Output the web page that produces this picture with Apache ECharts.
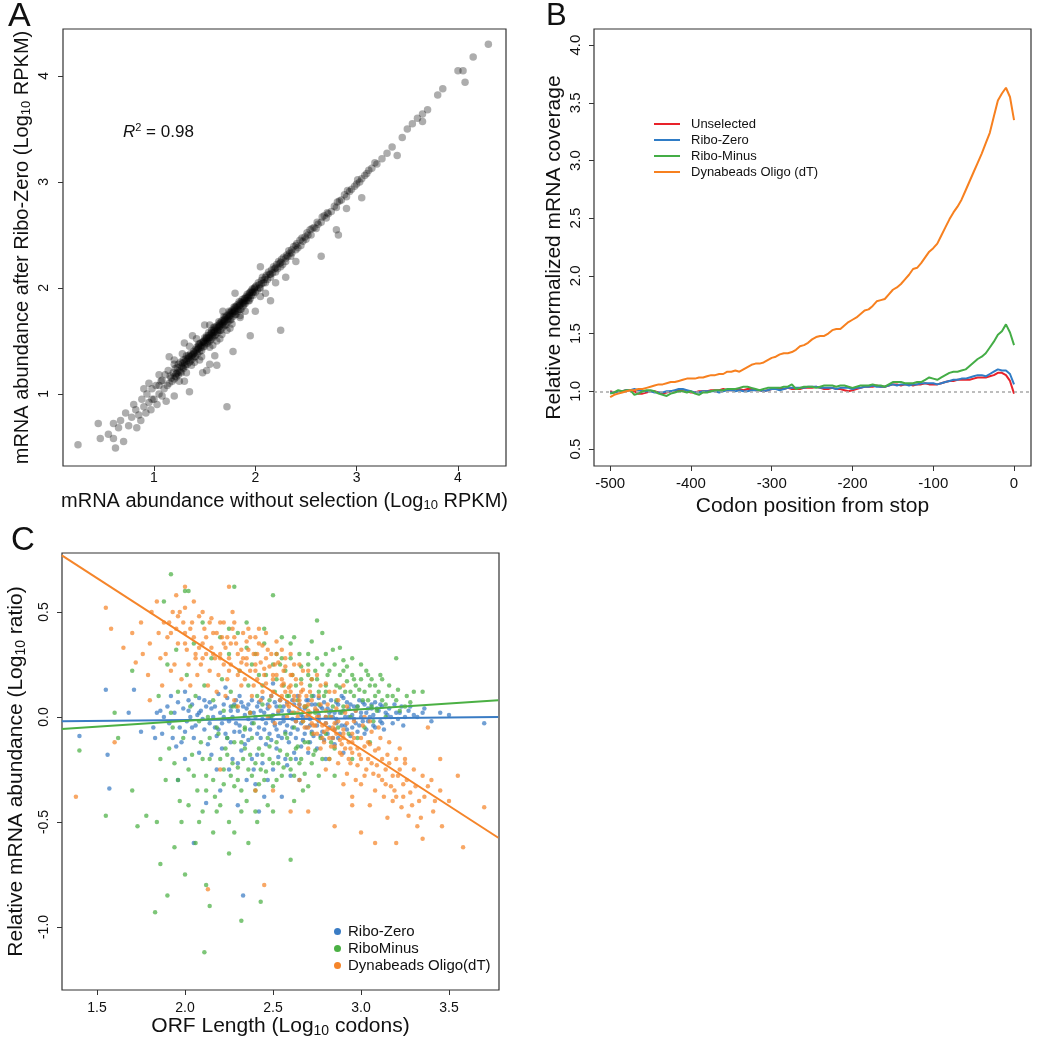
<!DOCTYPE html>
<html><head><meta charset="utf-8">
<script src="https://cdn.jsdelivr.net/npm/echarts@6/dist/echarts.min.js"></script>
<style>html,body{margin:0;padding:0;background:#fff}#chart{width:1050px;height:1050px}</style>
</head><body><div id="chart"></div>
<script>
// ---------- Panel A data: [unselected log10 RPKM, Ribo-Zero log10 RPKM] ----------
const aTicksX = [1, 2, 3, 4];
const aTicksY = [1, 2, 3, 4];
const aR2 = 0.98;
const aPoints = [
[0.25,0.52],[0.47,0.58],[0.45,0.72],[0.55,0.62],[0.6,0.58],[0.62,0.49],[0.65,0.68],[0.6,0.72],[0.67,0.75],[0.7,0.55],
[0.72,0.82],[0.75,0.7],[0.78,0.78],[0.8,0.9],[0.82,0.85],[0.83,0.68],[0.85,0.8],[0.87,0.75],[0.88,0.95],[0.9,0.88],
[0.92,0.82],[0.93,1.0],[0.95,0.92],[0.97,0.85],[0.98,1.05],[1.0,0.95],[1.02,1.08],[1.03,0.9],[1.05,1.0],[1.07,1.12],
[1.08,0.98],[1.1,1.05],[1.11,1.18],[1.12,0.93],
[1.15,1.1],[1.16,1.17],[1.14,1.22],[1.18,1.12],[1.19,1.2],[1.17,1.15],[1.2,1.14],[1.21,1.24],[1.22,1.19],
[1.23,1.2],[1.24,1.28],[1.22,1.16],[1.25,1.22],[1.26,1.3],[1.24,1.18],[1.27,1.26],[1.28,1.25],[1.29,1.32],[1.27,1.2],
[1.3,1.27],[1.31,1.33],[1.29,1.24],[1.32,1.36],[1.33,1.28],[1.34,1.36],[1.32,1.31],[1.35,1.3],[1.36,1.38],[1.34,1.34],[1.37,1.27],
[1.38,1.33],[1.39,1.4],[1.37,1.36],[1.4,1.35],[1.41,1.42],[1.39,1.38],[1.42,1.44],[1.43,1.38],[1.44,1.45],[1.42,1.41],[1.45,1.47],
[1.45,1.4],[1.46,1.48],[1.44,1.43],[1.47,1.35],[1.48,1.44],[1.49,1.5],[1.47,1.46],[1.5,1.53],[1.5,1.45],[1.51,1.52],[1.49,1.49],[1.52,1.55],
[1.53,1.48],[1.54,1.55],[1.52,1.51],[1.55,1.44],[1.55,1.5],[1.56,1.57],[1.54,1.53],[1.57,1.6],[1.58,1.53],[1.59,1.6],[1.57,1.56],[1.6,1.63],
[1.6,1.55],[1.61,1.62],[1.59,1.58],[1.62,1.5],[1.63,1.58],[1.64,1.65],[1.62,1.61],[1.65,1.67],[1.65,1.6],[1.66,1.67],[1.64,1.63],[1.67,1.56],
[1.68,1.63],[1.69,1.7],[1.67,1.66],[1.7,1.72],[1.7,1.65],[1.71,1.72],[1.69,1.68],[1.72,1.6],[1.73,1.68],[1.74,1.75],[1.72,1.71],[1.75,1.77],
[1.75,1.7],[1.76,1.77],[1.74,1.73],[1.77,1.66],[1.78,1.73],[1.79,1.8],[1.77,1.76],[1.8,1.82],[1.8,1.75],[1.81,1.82],[1.79,1.78],
[1.83,1.78],[1.84,1.85],[1.82,1.81],[1.85,1.74],[1.85,1.8],[1.86,1.87],[1.84,1.83],[1.88,1.83],[1.89,1.9],[1.87,1.86],
[1.9,1.85],[1.91,1.92],[1.89,1.88],[1.93,1.88],[1.94,1.95],[1.92,1.91],[1.95,1.9],[1.96,1.97],[1.94,1.93],
[1.98,1.93],[1.99,2.0],[1.97,1.96],[2.0,1.96],[2.01,2.02],[1.99,1.99],[2.05,2.0],[2.06,2.07],[2.04,2.03],
[2.1,2.05],[2.11,2.12],[2.09,2.08],[2.15,2.1],[2.16,2.17],[2.14,2.13],[2.2,2.15],[2.21,2.22],[2.19,2.18],
[2.25,2.2],[2.26,2.27],[2.24,2.23],[2.3,2.25],[2.31,2.31],[2.35,2.3],[2.36,2.36],[2.34,2.33],[2.4,2.36],[2.41,2.42],
[2.45,2.4],[2.46,2.47],[2.5,2.46],[2.51,2.52],[2.49,2.48],[2.55,2.5],[2.56,2.56],[2.6,2.56],[2.61,2.62],
[2.65,2.62],[2.66,2.67],[2.7,2.66],[2.71,2.71],[2.75,2.72],[2.8,2.76],[2.81,2.81],[2.85,2.83],[2.9,2.86],[2.91,2.92],
[2.95,2.93],[3.0,2.98],[3.01,3.02],[3.05,3.03],[3.1,3.08],[3.15,3.13],[3.2,3.17],[3.3,3.27],[3.35,3.33],[3.45,3.42],
[3.5,3.5],[3.55,3.55],[3.6,3.6],[3.65,3.64],[3.7,3.68],[3.8,3.82],[3.85,3.88],[4.0,4.05],[4.05,4.05],[4.07,3.94],
[4.15,4.18],[4.3,4.3],
[1.72,0.88],[1.55,1.28],[1.62,1.27],[1.78,1.4],[2.25,1.6],[1.95,1.55],[2.0,1.78],[2.15,1.88],[2.65,2.3],[2.82,2.5],
[2.8,2.55],[1.48,1.2],[1.52,1.22],[1.3,1.12],[1.4,1.3],[2.3,2.1],[2.9,2.75],[3.05,2.85],[3.4,3.25],[3.65,3.57],
[1.85,1.72],[2.1,1.95],[1.2,0.98],[1.35,1.02],[1.6,1.36],
[1.38,1.55],[1.3,1.48],[1.2,1.32],[1.05,1.18],[0.95,1.1],[1.5,1.65],[1.8,1.95],[2.05,2.2],[1.15,1.35],[0.9,1.05],
[1.21,1.17],[1.23,1.25],[1.26,1.21],[1.28,1.29],[1.3,1.3],[1.31,1.26],[1.33,1.33],[1.35,1.35],[1.36,1.31],[1.38,1.37],
[1.4,1.39],[1.41,1.35],[1.43,1.42],[1.44,1.47],[1.46,1.44],[1.47,1.41],[1.48,1.49],[1.5,1.48],[1.51,1.47],[1.52,1.53],
[1.53,1.5],[1.54,1.58],[1.55,1.53],[1.56,1.51],[1.57,1.58],[1.58,1.55],[1.59,1.63],[1.6,1.59],[1.61,1.56],[1.62,1.64],
[1.63,1.6],[1.64,1.68],[1.65,1.64],[1.66,1.6],[1.67,1.69],[1.68,1.66],[1.69,1.73],[1.7,1.69],[1.71,1.65],[1.72,1.74],
[1.73,1.71],[1.74,1.78],[1.75,1.74],[1.76,1.7],[1.77,1.79],[1.78,1.76],[1.79,1.82],[1.8,1.78],[1.81,1.75],[1.82,1.84],
[1.83,1.8],[1.84,1.87],[1.85,1.84],[1.86,1.8],[1.87,1.89],[1.88,1.86],[1.89,1.85],[1.9,1.9],[1.91,1.88],[1.92,1.94],
[1.93,1.91],[1.94,1.88],[1.95,1.96],[1.96,1.93],[1.97,1.99],[1.98,1.96],[2.0,2.01],[2.02,1.98],[2.03,2.05],[2.04,2.0],
[2.06,2.04],[2.07,2.1],[2.08,2.05],[2.1,2.1],[2.12,2.08],[2.13,2.15],[2.15,2.13],[2.17,2.14],[2.18,2.2],[2.2,2.19],
[2.22,2.18],[2.23,2.25],[2.25,2.24],[2.27,2.22],[2.28,2.29],[2.3,2.28],[2.32,2.3],[2.33,2.35],[2.36,2.33],[2.38,2.39],
[2.4,2.4],[2.42,2.38],[2.44,2.45],[2.47,2.44],[2.52,2.5],[2.54,2.55],[2.58,2.57],[2.62,2.6],[2.68,2.68],[2.72,2.7],
[2.78,2.77],[2.83,2.82],[2.88,2.88],[2.93,2.91],[2.98,2.96],[3.03,3.0],[3.08,3.06],[3.12,3.11],[3.18,3.18],[3.25,3.22],
[1.25,1.12],[1.32,1.2],[1.45,1.32],[1.58,1.46],[1.65,1.52],[1.75,1.62],[1.9,1.78],[2.05,1.92],[2.2,2.05],[2.4,2.25],
[1.2,1.28],[1.28,1.38],[1.42,1.52],[1.55,1.65],[1.68,1.78],[1.35,1.45],[1.05,1.08],[1.08,1.13],[1.13,1.08],[0.98,0.95]
];

// ---------- Panel B data: codon position from stop vs relative coverage ----------
const bTicksX = [-500, -400, -300, -200, -100, 0];
const bTicksY = [0.5, 1.0, 1.5, 2.0, 2.5, 3.0, 3.5, 4.0];
const bReference = 1.0;
const bNames = ['Unselected', 'Ribo-Zero', 'Ribo-Minus', 'Dynabeads Oligo (dT)'];
const bPositions = [-500,-495,-490,-485,-480,-475,-470,-465,-460,-455,-450,-445,-440,-435,-430,-425,-420,-415,-410,-405,
-400,-395,-390,-385,-380,-375,-370,-365,-360,-355,-350,-345,-340,-335,-330,-325,-320,-315,-310,-305,
-300,-295,-290,-285,-280,-275,-270,-265,-260,-255,-250,-245,-240,-235,-230,-225,-220,-215,-210,-205,
-200,-195,-190,-185,-180,-175,-170,-165,-160,-155,-150,-145,-140,-135,-130,-125,-120,-115,-110,-105,
-100,-95,-90,-85,-80,-75,-70,-65,-60,-55,-50,-45,-40,-35,-30,-25,-20,-15,-10,-5,0];
const bUnselected = [1.00,0.99,1.00,1.00,1.01,1.01,1.00,0.98,0.98,0.99,1.00,1.00,0.99,0.98,0.99,1.00,1.00,1.01,1.00,1.00,
0.99,0.99,1.00,1.00,1.00,1.01,1.01,1.01,1.02,1.01,1.01,1.02,1.02,1.01,1.02,1.02,1.01,1.01,1.00,1.01,
1.02,1.02,1.02,1.02,1.03,1.02,1.02,1.02,1.03,1.03,1.03,1.04,1.03,1.02,1.02,1.03,1.02,1.02,1.01,1.00,
1.01,1.02,1.03,1.04,1.04,1.04,1.05,1.04,1.04,1.05,1.06,1.06,1.05,1.06,1.06,1.05,1.06,1.06,1.07,1.06,
1.06,1.06,1.07,1.08,1.09,1.09,1.10,1.10,1.10,1.10,1.11,1.12,1.12,1.12,1.13,1.14,1.16,1.16,1.14,1.09,0.98];
const bRiboZero = [0.99,0.99,1.00,1.00,1.01,1.01,1.02,1.01,1.00,1.00,1.00,0.99,0.99,0.99,1.00,1.00,1.01,1.02,1.02,1.01,
1.00,0.99,0.99,1.00,1.00,1.00,1.00,0.99,1.00,1.01,1.01,1.00,1.01,1.00,1.00,1.01,1.01,1.01,1.00,1.01,
1.02,1.02,1.01,1.02,1.03,1.03,1.03,1.03,1.03,1.04,1.04,1.04,1.03,1.03,1.03,1.03,1.02,1.03,1.03,1.03,
1.02,1.03,1.03,1.04,1.04,1.05,1.04,1.04,1.04,1.05,1.06,1.05,1.06,1.06,1.05,1.06,1.06,1.07,1.07,1.07,
1.07,1.06,1.07,1.08,1.09,1.10,1.10,1.11,1.11,1.12,1.13,1.14,1.14,1.13,1.15,1.17,1.19,1.18,1.18,1.15,1.06];
const bRiboMinus = [0.98,0.99,1.01,1.00,1.01,1.01,0.97,0.98,1.00,1.01,1.01,1.00,0.98,0.97,0.96,0.98,0.99,1.00,1.00,0.99,
1.00,0.98,0.97,0.99,0.99,1.00,1.01,1.01,1.01,1.02,1.02,1.02,1.03,1.04,1.04,1.03,1.02,1.01,1.02,1.03,
1.03,1.03,1.03,1.04,1.04,1.06,1.02,1.03,1.04,1.04,1.04,1.03,1.04,1.05,1.05,1.05,1.04,1.05,1.05,1.04,
1.03,1.04,1.05,1.05,1.05,1.06,1.05,1.05,1.04,1.06,1.08,1.08,1.08,1.07,1.07,1.07,1.08,1.08,1.10,1.12,
1.11,1.10,1.12,1.14,1.16,1.17,1.17,1.18,1.19,1.22,1.25,1.28,1.30,1.33,1.38,1.43,1.49,1.52,1.58,1.51,1.40];
const bDynabeads = [0.95,0.97,0.98,0.99,1.00,1.01,1.01,1.02,1.02,1.03,1.04,1.05,1.06,1.06,1.07,1.08,1.08,1.09,1.10,1.11,
1.11,1.11,1.12,1.12,1.13,1.14,1.14,1.15,1.15,1.17,1.17,1.18,1.17,1.19,1.21,1.23,1.24,1.24,1.25,1.27,
1.29,1.30,1.32,1.33,1.33,1.34,1.36,1.39,1.40,1.42,1.45,1.47,1.48,1.48,1.50,1.53,1.54,1.54,1.57,1.60,
1.62,1.64,1.67,1.70,1.71,1.74,1.78,1.79,1.80,1.84,1.88,1.90,1.93,1.97,2.01,2.06,2.07,2.11,2.16,2.21,
2.24,2.28,2.35,2.42,2.49,2.55,2.60,2.66,2.74,2.82,2.90,2.98,3.06,3.15,3.24,3.38,3.52,3.58,3.63,3.55,3.35];

// ---------- Panel C data: [ORF length log10 codons, relative abundance log10 ratio] ----------
const cTicksX = [1.5, 2.0, 2.5, 3.0, 3.5];
const cTicksY = [-1.0, -0.5, 0.0, 0.5];
const cNames = ['Ribo-Zero', 'RiboMinus', 'Dynabeads Oligo(dT)'];
const cRiboZero = [
[1.82,-0.05],[1.84,0.02],[1.86,0.03],[1.87,-0.08],[1.88,0.0],[1.9,0.05],[1.91,-0.03],[1.93,-0.1],[1.94,0.02],[1.96,0.07],
[1.97,-0.05],[1.95,-0.14],[1.99,0.04],[2.01,-0.02],[2.02,0.08],[2.0,-0.07],[2.03,0.0],[2.04,0.06],[2.06,-0.04],[2.07,0.01],
[2.05,-0.1],[2.08,0.09],[2.09,0.03],[2.11,-0.06],[2.12,0.05],[2.1,-0.01],[2.13,-0.13],[2.14,0.07],[2.16,0.0],[2.17,-0.05],
[2.15,0.04],[2.18,-0.09],[2.19,0.11],[2.2,0.02],[2.21,-0.03],[2.22,0.06],[2.23,-0.08],[2.21,-0.15],[2.24,0.09],[2.26,0.05],
[2.25,-0.02],[2.27,0.0],[2.28,-0.07],[2.26,-0.12],[2.29,0.08],[2.27,-0.2],[2.3,0.03],[2.31,-0.04],[2.32,0.07],[2.33,-0.09],
[2.34,0.01],[2.32,-0.16],[2.31,0.1],[2.35,0.04],[2.36,-0.01],[2.37,-0.06],[2.38,0.08],[2.36,-0.11],[2.39,-0.25],[2.37,0.02],
[2.4,0.0],[2.41,0.05],[2.42,-0.05],[2.43,-0.1],[2.44,0.09],[2.41,-0.18],[2.43,0.03],[2.45,0.02],[2.46,-0.03],[2.47,0.06],
[2.48,-0.08],[2.46,-0.13],[2.49,0.1],[2.47,-0.3],[2.5,0.01],[2.51,-0.04],[2.52,0.05],[2.53,-0.09],[2.54,0.08],[2.52,-0.15],
[2.5,-0.02],[2.55,0.03],[2.56,-0.02],[2.57,-0.07],[2.58,0.07],[2.59,-0.12],[2.56,0.0],[2.57,-0.2],[2.6,0.02],[2.61,-0.05],
[2.62,0.06],[2.63,-0.1],[2.64,0.1],[2.61,-0.01],[2.62,-0.17],[2.65,0.04],[2.66,-0.03],[2.67,0.0],[2.68,-0.08],[2.69,0.08],
[2.66,-0.14],[2.7,0.01],[2.71,-0.04],[2.72,0.06],[2.73,-0.09],[2.74,0.03],[2.71,-0.12],[2.73,0.1],[2.75,0.03],[2.76,-0.02],
[2.77,0.05],[2.78,-0.07],[2.79,-0.11],[2.76,0.09],[2.8,0.0],[2.81,0.04],[2.82,-0.05],[2.83,0.08],[2.84,-0.1],[2.82,0.02],
[2.85,0.02],[2.86,-0.03],[2.87,0.06],[2.88,-0.08],[2.89,0.1],[2.86,-0.01],[2.9,0.03],[2.91,-0.04],[2.92,0.07],[2.93,0.0],
[2.94,-0.09],[2.95,0.01],[2.96,0.05],[2.97,-0.03],[2.98,-0.07],[2.99,0.08],[3.0,0.02],[3.01,-0.02],[3.02,0.06],[3.03,-0.06],
[3.04,0.04],[3.05,0.0],[3.06,0.04],[3.07,-0.04],[3.08,0.07],[3.1,0.03],[3.11,-0.02],[3.12,0.05],[3.13,-0.06],[3.15,0.01],
[3.16,0.04],[3.18,-0.03],[3.2,0.02],[3.21,-0.01],[3.23,0.05],[3.25,0.0],[3.27,0.03],[3.3,0.01],[3.4,-0.02],
[1.4,-0.09],[1.55,0.13],[1.56,-0.18],[1.57,-0.34],[1.71,0.13],[1.75,-0.07],[1.83,-0.1],[2.12,-0.41],[2.33,-0.85],[2.2,-0.35],
[1.96,-0.3],[2.42,-0.45],[2.3,-0.42],[3.7,-0.03],[1.68,0.02],[2.55,-0.38],[2.65,-0.3],[2.05,-0.6],[2.4,-0.32],[2.0,-0.2],
[2.8,-0.2],[2.9,-0.17],[3.35,0.02],[3.5,0.01],[2.23,0.14],[2.5,0.16],
[2.02,0.03],[2.04,-0.05],[2.08,0.02],[2.11,0.08],[2.14,-0.03],[2.17,0.05],[2.19,-0.06],[2.22,0.0],[2.24,-0.1],[2.26,0.03],
[2.28,0.06],[2.29,-0.03],[2.31,-0.07],[2.33,0.05],[2.34,-0.13],[2.36,0.06],[2.38,-0.03],[2.39,0.02],[2.41,-0.08],[2.42,0.07],
[2.44,-0.01],[2.45,-0.06],[2.47,0.04],[2.48,0.0],[2.49,-0.11],[2.51,0.07],[2.52,-0.06],[2.53,0.02],[2.54,-0.03],[2.55,-0.1],
[2.56,0.05],[2.58,-0.04],[2.59,0.03],[2.6,-0.08],[2.61,0.08],[2.63,-0.02],[2.64,-0.06],[2.65,0.06],[2.66,0.01],[2.67,-0.11],
[2.68,0.04],[2.69,-0.05],[2.7,0.08],[2.71,-0.01],[2.72,-0.07],[2.74,0.06],[2.75,-0.04],[2.76,0.01],[2.77,-0.09],[2.78,0.04],
[2.79,0.07],[2.8,-0.03],[2.81,-0.08],[2.83,0.03],[2.84,0.0],[2.85,-0.06],[2.86,0.07],[2.87,-0.1],[2.88,0.02],[2.89,-0.04],
[2.9,0.09],[2.91,0.0],[2.92,-0.06],[2.93,0.04],[2.94,0.06],[2.95,-0.05],[2.96,-0.01],[2.97,0.03],[2.98,0.05],[2.99,-0.04],
[3.0,0.0],[3.01,0.07],[3.02,-0.08],[3.03,0.02],[3.04,-0.02],[3.06,0.06],[3.07,0.01],[3.08,-0.05],[3.09,0.04],[3.11,0.06],
[3.12,-0.03],[3.14,0.02],[3.17,0.0],[3.19,0.06],[3.22,0.02],[3.24,-0.04],[3.28,0.05],[3.32,0.0],[3.36,0.04],[3.45,0.02],
[2.15,-0.18],[2.25,-0.25],[2.3,-0.22],[2.38,-0.2],[2.44,-0.22],[2.5,-0.25],[2.53,-0.19],[2.58,-0.23],[2.63,-0.2],[2.7,-0.17],
[2.75,-0.15],[2.85,-0.13],[2.35,-0.3],[2.45,-0.38],[2.6,-0.28],[2.18,-0.25],[2.08,-0.17],[1.98,-0.12],[1.92,0.1],[2.0,0.12]
];
const cRiboMinus = [
[1.85,0.1],[1.86,-0.2],[1.84,-0.5],[1.9,0.25],[1.91,-0.15],[1.89,-0.3],[1.92,0.02],[1.95,0.32],[1.96,0.12],[1.94,-0.22],
[1.97,-0.4],[1.93,-0.05],[2.0,0.6],[2.01,0.2],[1.99,-0.1],[2.02,-0.25],[2.03,0.05],[1.98,-0.5],[2.05,0.35],[2.06,0.1],
[2.04,-0.18],[2.07,-0.35],[2.08,-0.02],[2.06,-0.6],[2.1,0.45],[2.11,0.15],[2.09,-0.12],[2.12,-0.28],[2.13,0.0],[2.1,-0.45],
[2.12,-0.8],[2.15,0.28],[2.16,0.08],[2.14,-0.2],[2.17,-0.38],[2.18,-0.05],[2.16,-0.55],[2.2,0.38],[2.21,0.18],[2.19,-0.08],
[2.22,-0.25],[2.23,-0.15],[2.2,-0.42],[2.22,0.03],[2.25,0.3],[2.26,0.12],[2.24,-0.1],[2.27,-0.22],[2.28,-0.33],[2.25,-0.5],
[2.27,0.05],[2.3,0.4],[2.31,0.22],[2.29,0.05],[2.32,-0.12],[2.33,-0.2],[2.3,-0.3],[2.32,-0.45],[2.34,-0.05],[2.35,0.33],
[2.36,0.15],[2.34,-0.06],[2.37,-0.18],[2.38,-0.28],[2.35,-0.4],[2.37,0.02],[2.36,-0.6],[2.4,0.3],[2.41,0.1],[2.39,-0.03],
[2.42,-0.15],[2.43,-0.25],[2.4,-0.35],[2.42,0.2],[2.41,-0.5],[2.45,0.35],[2.46,0.2],[2.44,0.06],[2.47,-0.1],[2.48,-0.2],
[2.45,-0.3],[2.47,-0.42],[2.5,0.25],[2.51,0.12],[2.49,0.0],[2.52,-0.12],[2.53,-0.22],[2.5,-0.33],[2.52,0.3],[2.55,0.28],
[2.56,0.15],[2.54,0.05],[2.57,-0.08],[2.58,-0.18],[2.55,-0.28],[2.57,0.22],[2.6,0.35],[2.61,0.2],[2.59,0.1],[2.62,-0.05],
[2.63,-0.15],[2.6,-0.25],[2.62,0.02],[2.65,0.3],[2.66,0.18],[2.64,0.08],[2.67,-0.02],[2.68,-0.12],[2.65,-0.22],[2.67,-0.35],
[2.7,0.25],[2.71,0.15],[2.69,0.05],[2.72,-0.08],[2.73,-0.18],[2.7,0.2],[2.72,0.1],[2.75,0.28],[2.76,0.12],[2.74,0.02],
[2.77,-0.1],[2.78,-0.2],[2.75,0.18],[2.8,0.3],[2.81,0.2],[2.79,0.1],[2.82,0.0],[2.83,-0.12],[2.8,0.15],[2.82,-0.2],
[2.85,0.25],[2.86,0.15],[2.84,0.05],[2.87,-0.05],[2.88,0.2],[2.85,-0.15],[2.9,0.22],[2.91,0.12],[2.89,0.02],[2.92,0.17],
[2.93,-0.08],[2.9,0.27],[2.95,0.2],[2.96,0.1],[2.94,0.0],[2.97,0.15],[2.98,-0.1],[2.95,0.28],[3.0,0.18],[3.01,0.08],
[2.99,0.13],[3.02,-0.05],[3.03,0.22],[3.05,0.15],[3.06,0.05],[3.04,0.2],[3.07,-0.02],[3.08,0.1],[3.1,0.12],[3.11,0.2],
[3.09,0.03],[3.12,0.08],[3.15,0.1],[3.16,0.15],[3.14,0.0],[3.2,0.08],[3.21,0.13],[3.25,0.05],[3.26,0.1],[3.3,0.12],
[1.55,-0.47],[1.62,-0.1],[1.7,-0.35],[1.73,-0.52],[1.78,-0.47],[1.83,-0.93],[1.86,-0.7],[1.9,-0.85],[1.94,-0.62],[2.0,-0.75],
[2.11,-1.12],[2.14,-0.9],[2.25,-0.65],[2.32,-0.97],[2.43,-0.88],[2.6,-0.68],[1.88,0.55],[1.92,0.68],[2.02,0.6],[2.28,0.62],
[2.5,0.58],[2.75,0.46],[3.2,0.28],[3.35,0.12],[1.4,-0.16],[1.6,0.02],[1.7,0.22],
[2.52,0.18],[2.54,0.25],[2.58,0.1],[2.6,0.28],[2.63,0.15],[2.66,0.24],[2.68,0.05],[2.7,0.3],[2.72,0.18],[2.74,0.22],
[2.76,0.06],[2.78,0.25],[2.8,0.12],[2.82,0.22],[2.84,0.32],[2.86,0.08],[2.88,0.14],[2.9,0.05],[2.92,0.24],[2.94,0.12],
[2.96,0.18],[2.98,0.05],[3.0,0.25],[3.02,0.12],[3.04,0.08],[3.06,0.18],[3.08,0.15],[3.12,0.18],[3.14,0.06],[3.18,0.1],
[3.22,0.03],[3.28,0.07],[2.62,0.38],[2.72,0.36],[2.78,0.4],[2.88,0.33],[2.55,0.38],[2.45,0.42],[2.35,0.45],[2.25,0.42],
[2.2,-0.2],[2.22,-0.32],[2.24,-0.18],[2.26,-0.28],[2.28,-0.12],[2.3,-0.24],[2.32,-0.35],[2.34,-0.15],[2.36,-0.25],[2.38,-0.1],
[2.4,-0.22],[2.42,-0.32],[2.44,-0.18],[2.46,-0.26],[2.48,-0.14],[2.5,-0.22],[2.52,-0.3],[2.54,-0.16],[2.56,-0.24],[2.58,-0.1],
[2.6,-0.2],[2.62,-0.28],[2.64,-0.14],[2.66,-0.2],[2.68,-0.27],[2.7,-0.12],[2.72,-0.22],[2.74,-0.16],[2.76,-0.28],[2.8,-0.08],
[2.1,-0.2],[2.12,-0.35],[2.14,-0.1],[2.16,-0.3],[2.18,-0.45],[2.05,-0.28],[2.02,-0.42],[1.96,-0.3],[2.08,-0.5],[2.28,-0.55],
[2.4,-0.45],[2.5,-0.45],[2.62,-0.4],[2.7,-0.33],[2.85,-0.28],[2.95,-0.2],[3.05,-0.12],[2.44,0.15],[2.48,0.08],[2.38,0.25]
];
const cDynabeads = [
[1.75,0.45],[1.76,0.3],[1.8,0.35],[1.81,0.5],[1.79,0.2],[1.85,0.4],[1.86,0.28],[1.84,0.55],[1.87,0.15],[1.9,0.38],
[1.91,0.45],[1.89,0.3],[1.92,0.22],[1.93,0.5],[1.95,0.42],[1.96,0.35],[1.94,0.25],[1.97,0.5],[1.98,0.18],[1.95,0.58],
[2.0,0.4],[2.01,0.32],[1.99,0.45],[2.02,0.25],[2.03,0.15],[2.0,0.52],[2.05,0.38],[2.06,0.28],[2.04,0.45],[2.07,0.2],
[2.08,0.33],[2.05,0.55],[2.1,0.35],[2.11,0.42],[2.09,0.25],[2.12,0.3],[2.13,0.15],[2.1,0.5],[2.15,0.33],[2.16,0.4],
[2.14,0.22],[2.17,0.28],[2.18,0.12],[2.15,0.47],[2.2,0.3],[2.21,0.38],[2.19,0.2],[2.22,0.25],[2.23,0.1],[2.2,0.45],
[2.22,0.35],[2.25,0.28],[2.26,0.35],[2.24,0.18],[2.27,0.42],[2.28,0.08],[2.25,0.22],[2.27,0.5],[2.3,0.3],[2.31,0.22],
[2.29,0.35],[2.32,0.15],[2.33,0.4],[2.3,0.05],[2.32,0.26],[2.35,0.25],[2.36,0.32],[2.34,0.18],[2.37,0.38],[2.38,0.1],
[2.35,0.28],[2.37,0.02],[2.4,0.22],[2.41,0.3],[2.39,0.15],[2.42,0.35],[2.43,0.08],[2.4,0.25],[2.42,0.42],[2.45,0.2],
[2.46,0.28],[2.44,0.12],[2.47,0.32],[2.48,0.05],[2.45,0.23],[2.47,0.0],[2.5,0.18],[2.51,0.25],[2.49,0.1],[2.52,0.3],
[2.53,0.03],[2.5,0.2],[2.52,0.36],[2.51,-0.03],[2.55,0.15],[2.56,0.22],[2.54,0.08],[2.57,0.28],[2.58,0.0],[2.55,0.18],
[2.57,0.12],[2.6,0.12],[2.61,0.2],[2.59,0.05],[2.62,0.25],[2.63,-0.02],[2.6,0.15],[2.62,0.08],[2.65,0.1],[2.66,0.16],
[2.64,0.02],[2.67,0.22],[2.68,-0.05],[2.65,0.06],[2.67,0.13],[2.7,0.06],[2.71,0.12],[2.69,0.0],[2.72,0.18],[2.73,-0.08],
[2.7,0.03],[2.72,-0.03],[2.75,0.03],[2.76,0.1],[2.74,-0.04],[2.77,0.15],[2.78,-0.1],[2.75,0.0],[2.77,-0.15],[2.8,0.0],
[2.81,0.06],[2.79,-0.07],[2.82,0.12],[2.83,-0.14],[2.8,-0.03],[2.82,-0.2],[2.85,-0.03],[2.86,0.04],[2.84,-0.1],[2.87,0.08],
[2.88,-0.17],[2.85,-0.06],[2.87,-0.22],[2.9,-0.06],[2.91,0.02],[2.89,-0.13],[2.92,0.05],[2.93,-0.2],[2.9,-0.1],[2.92,-0.27],
[2.95,-0.08],[2.96,-0.02],[2.94,-0.15],[2.97,0.03],[2.98,-0.23],[2.95,-0.12],[2.97,-0.3],[3.0,-0.1],[3.01,-0.04],[2.99,-0.18],
[3.02,0.0],[3.03,-0.25],[3.0,-0.32],[3.02,-0.14],[3.05,-0.13],[3.06,-0.07],[3.04,-0.2],[3.07,-0.27],[3.08,-0.35],[3.05,-0.02],
[3.1,-0.15],[3.11,-0.1],[3.09,-0.23],[3.12,-0.3],[3.13,-0.38],[3.1,-0.05],[3.15,-0.18],[3.16,-0.12],[3.14,-0.25],[3.17,-0.33],
[3.18,-0.4],[3.2,-0.2],[3.21,-0.28],[3.19,-0.35],[3.22,-0.15],[3.23,-0.43],[3.25,-0.22],[3.26,-0.3],[3.24,-0.38],[3.27,-0.47],
[3.3,-0.25],[3.31,-0.33],[3.29,-0.42],[3.32,-0.52],[3.35,-0.28],[3.36,-0.38],[3.34,-0.48],[3.4,-0.3],[3.41,-0.45],[3.45,-0.35],
[3.46,-0.52],[3.5,-0.4],
[1.38,-0.38],[1.55,0.52],[1.58,0.42],[1.6,-0.12],[1.7,0.4],[1.72,0.26],[1.8,0.08],[2.0,0.62],[2.25,0.62],[2.65,-0.3],
[2.7,-0.45],[2.85,-0.52],[3.0,-0.55],[3.08,-0.6],[3.2,-0.6],[3.35,-0.58],[3.58,-0.62],[3.7,-0.43],[3.55,-0.28],[3.45,-0.2],
[2.13,-0.82],[2.45,-0.8],[2.2,-0.25],[2.4,-0.35],[2.5,-0.35],[2.6,-0.45],[2.95,-0.42],[3.25,-0.2],[3.38,-0.05],[2.9,0.15],[1.65,0.33],
[2.2,0.28],[2.23,0.33],[2.26,0.25],[2.28,0.38],[2.3,0.2],[2.33,0.28],[2.35,0.36],[2.37,0.22],[2.39,0.3],[2.41,0.18],
[2.43,0.26],[2.44,0.34],[2.46,0.16],[2.48,0.24],[2.49,0.3],[2.5,0.12],[2.52,0.2],[2.53,0.26],[2.55,0.1],[2.56,0.16],
[2.57,0.24],[2.58,0.06],[2.59,0.14],[2.6,0.2],[2.61,0.02],[2.62,0.1],[2.63,0.18],[2.64,0.0],[2.65,0.08],[2.66,0.12],
[2.67,-0.02],[2.68,0.05],[2.69,0.1],[2.7,-0.05],[2.71,0.02],[2.72,0.08],[2.73,-0.04],[2.74,0.04],[2.75,-0.08],[2.76,0.0],
[2.77,0.06],[2.78,-0.04],[2.79,-0.12],[2.8,0.03],[2.81,-0.06],[2.82,-0.1],[2.83,0.0],[2.84,-0.05],[2.85,-0.14],[2.86,-0.08],
[2.87,-0.02],[2.88,-0.11],[2.89,-0.18],[2.9,-0.08],[2.91,-0.15],[2.92,-0.03],[2.93,-0.12],[2.94,-0.22],[2.95,-0.17],[2.96,-0.1],
[2.98,-0.15],[3.0,-0.2],[3.02,-0.28],[3.04,-0.12],[3.06,-0.22],[3.08,-0.16],[3.1,-0.28],[3.12,-0.2],[3.14,-0.32],[3.16,-0.22],
[3.18,-0.28],[3.2,-0.38],[3.22,-0.25],[3.24,-0.32],[3.28,-0.36],[3.33,-0.4],[3.38,-0.33],[3.42,-0.4],
[2.0,0.35],[2.03,0.42],[2.06,0.3],[2.08,0.48],[2.1,0.28],[2.12,0.38],[2.14,0.45],[2.16,0.3],[2.18,0.4],[2.22,0.45],
[2.24,0.38],[2.28,0.45],[2.32,0.32],[2.36,0.42],[2.4,0.38],[2.46,0.4],[2.55,0.32],[2.6,0.3],[2.65,0.25],[2.7,0.22],
[2.75,0.2],[2.8,0.16],[2.85,0.12],[1.92,0.4],[1.88,0.45],[1.96,0.48],[2.7,-0.15],[2.8,-0.25],[2.9,-0.32],[2.95,-0.38],
[3.05,-0.42],[3.15,-0.48]
];
// fitted regression lines (end points)
const cFitRiboZero = [[1.3, -0.02], [3.78, 0.0]];
const cFitRiboMinus = [[1.3, -0.057], [3.78, 0.08]];
const cFitDynabeads = [[1.3, 0.77], [3.78, -0.575]];

// ---------- styling ----------
const FF = "'Liberation Sans', Arial, Helvetica, sans-serif";
const TXT = '#111';
const colB = {red: '#e8222a', blue: '#2f7cc6', green: '#44ad46', orange: '#f7801f'};
const colC = {blue: '#3a7cc4', green: '#4bb044', orange: '#f5852a'};

function nameStyle(size) {
  return {
    fontFamily: FF, fontSize: size, color: TXT,
    rich: {
      n: {fontFamily: FF, fontSize: size, lineHeight: size + 2, color: TXT},
      s: {fontFamily: FF, fontSize: Math.round(size * 0.66), lineHeight: 10, verticalAlign: 'bottom', color: TXT}
    }
  };
}
function axis(gi, min, max, ticks, fmt, isY, name, gap, nameSize, labelSize, labelMargin) {
  return {
    type: 'value', gridIndex: gi, min: min, max: max, scale: true,
    axisLine: {show: false, onZero: false},
    axisTick: {show: true, inside: false, length: 5, customValues: ticks, lineStyle: {color: '#333', width: 1}},
    axisLabel: {customValues: ticks, formatter: fmt, rotate: isY ? 90 : 0, fontFamily: FF, fontSize: labelSize, color: TXT, margin: labelMargin},
    splitLine: {show: false},
    name: name, nameLocation: 'middle', nameGap: gap, nameTextStyle: nameStyle(nameSize)
  };
}
const f0 = v => String(v);
const f1 = v => v.toFixed(1);
const toPairs = (xs, ys) => xs.map((x, i) => [x, ys[i]]);

const chart = echarts.init(document.getElementById('chart'), null, {renderer: 'canvas'});
const gridStyle = {show: true, borderColor: '#333', borderWidth: 1.2, backgroundColor: 'transparent', containLabel: false};

const option = {
  animation: false,
  backgroundColor: '#fff',
  grid: [
    Object.assign({left: 63, top: 29, width: 443, height: 437}, gridStyle),
    Object.assign({left: 594, top: 29, width: 437, height: 437}, gridStyle),
    Object.assign({left: 62, top: 553, width: 437, height: 437}, gridStyle)
  ],
  xAxis: [
    axis(0, 0.102, 4.474, aTicksX, f0, false, '{n|mRNA abundance without selection (Log}{s|10}{n| RPKM)}', 24, 20, 14, 5),
    axis(1, -520, 21, bTicksX, f0, false, '{n|Codon position from stop}', 29, 21, 15, 10),
    axis(2, 1.301, 3.784, cTicksX, f1, false, '{n|ORF Length (Log}{s|10}{n| codons)}', 25, 21, 14, 11)
  ],
  yAxis: [
    axis(0, 0.32, 4.443, aTicksY, f0, true, '{n|mRNA abundance after Ribo-Zero (Log}{s|10}{n| RPKM)}', 30, 20, 14, 12),
    axis(1, 0.353, 4.139, bTicksY, f1, true, '{n|Relative normalized mRNA coverage}', 28, 21, 15, 11),
    axis(2, -1.300, 0.781, cTicksY, f1, true, '{n|Relative mRNA abundance (Log}{s|10}{n| ratio)}', 34, 21, 14, 11)
  ],
  legend: [
    {
      data: bNames, icon: 'rect', orient: 'vertical', left: 649, top: 112, itemWidth: 26, itemHeight: 2, itemGap: 2,
      textStyle: {fontFamily: FF, fontSize: 13, lineHeight: 14, color: TXT, padding: [0, 0, 0, 6]}, selectedMode: false
    },
    {
      data: cNames.map(n => 'C: ' + n), formatter: n => n.slice(3), icon: 'circle',
      orient: 'vertical', left: 329, top: 919, itemWidth: 7, itemHeight: 7, itemGap: 2,
      itemStyle: {opacity: 1},
      textStyle: {fontFamily: FF, fontSize: 15, color: TXT, padding: [0, 0, 0, 2]}, selectedMode: false
    }
  ],
  series: [
    {type: 'scatter', name: 'A', xAxisIndex: 0, yAxisIndex: 0, data: aPoints, symbolSize: 7.5,
      itemStyle: {color: '#000', opacity: 0.32}, silent: true},

    {type: 'line', name: bNames[0], xAxisIndex: 1, yAxisIndex: 1, data: toPairs(bPositions, bUnselected),
      symbol: 'none', lineStyle: {color: colB.red, width: 2}, itemStyle: {color: colB.red}, z: 3,
      markLine: {silent: true, symbol: 'none', label: {show: false},
        lineStyle: {color: '#a8a8a8', type: [3, 3], width: 1.6}, data: [{yAxis: bReference}]}},
    {type: 'line', name: bNames[1], xAxisIndex: 1, yAxisIndex: 1, data: toPairs(bPositions, bRiboZero),
      symbol: 'none', lineStyle: {color: colB.blue, width: 2}, itemStyle: {color: colB.blue}, z: 4},
    {type: 'line', name: bNames[2], xAxisIndex: 1, yAxisIndex: 1, data: toPairs(bPositions, bRiboMinus),
      symbol: 'none', lineStyle: {color: colB.green, width: 2}, itemStyle: {color: colB.green}, z: 5},
    {type: 'line', name: bNames[3], xAxisIndex: 1, yAxisIndex: 1, data: toPairs(bPositions, bDynabeads),
      symbol: 'none', lineStyle: {color: colB.orange, width: 2}, itemStyle: {color: colB.orange}, z: 6},

    {type: 'scatter', name: 'C: ' + cNames[0], xAxisIndex: 2, yAxisIndex: 2, data: cRiboZero, symbolSize: 4.5,
      itemStyle: {color: colC.blue, opacity: 0.72}, silent: true},
    {type: 'scatter', name: 'C: ' + cNames[1], xAxisIndex: 2, yAxisIndex: 2, data: cRiboMinus, symbolSize: 4.5,
      itemStyle: {color: colC.green, opacity: 0.72}, silent: true},
    {type: 'scatter', name: 'C: ' + cNames[2], xAxisIndex: 2, yAxisIndex: 2, data: cDynabeads, symbolSize: 4.5,
      itemStyle: {color: colC.orange, opacity: 0.72}, silent: true},
    {type: 'line', name: 'fit-zero', xAxisIndex: 2, yAxisIndex: 2, data: cFitRiboZero, symbol: 'none',
      lineStyle: {color: colC.blue, width: 2}, z: 7, silent: true},
    {type: 'line', name: 'fit-minus', xAxisIndex: 2, yAxisIndex: 2, data: cFitRiboMinus, symbol: 'none',
      lineStyle: {color: colC.green, width: 2}, z: 7, silent: true},
    {type: 'line', name: 'fit-dyna', xAxisIndex: 2, yAxisIndex: 2, data: cFitDynabeads, symbol: 'none',
      lineStyle: {color: colC.orange, width: 2}, z: 8, silent: true}
  ],
  graphic: [
    {type: 'text', x: 8, y: 0, style: {text: 'A', fontFamily: FF, fontSize: 34, fill: TXT, align: 'left', verticalAlign: 'top'}},
    {type: 'text', x: 546, y: 1, style: {text: 'B', fontFamily: FF, fontSize: 31, fill: TXT, align: 'left', verticalAlign: 'top'}},
    {type: 'text', x: 11, y: 524, style: {text: 'C', fontFamily: FF, fontSize: 33, fill: TXT, align: 'left', verticalAlign: 'top'}},
    {type: 'text', x: 123, y: 132, style: {
      text: '{i|R}{p|2}{n| = ' + aR2.toFixed(2) + '}', align: 'left', verticalAlign: 'middle',
      rich: {
        i: {fontFamily: FF, fontSize: 17, fontStyle: 'italic', lineHeight: 20, fill: TXT},
        p: {fontFamily: FF, fontSize: 11, lineHeight: 10, verticalAlign: 'top', fill: TXT},
        n: {fontFamily: FF, fontSize: 17, lineHeight: 20, fill: TXT}
      }}}
  ]
};
chart.setOption(option);
</script>
</body></html>
